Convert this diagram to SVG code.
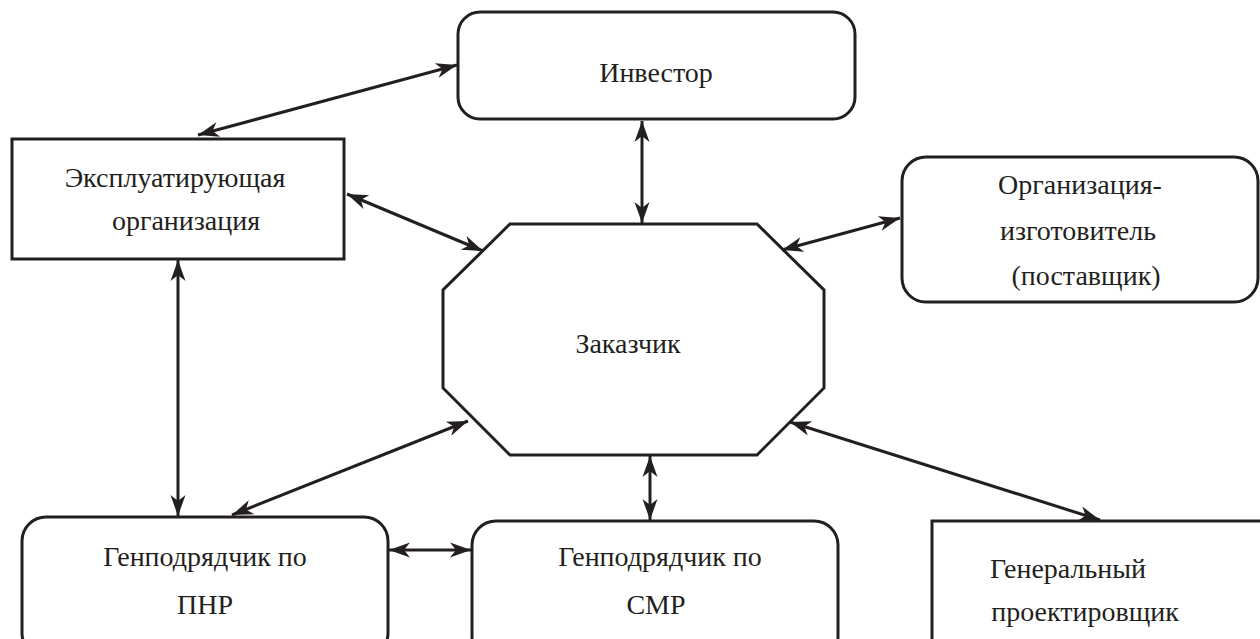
<svg xmlns="http://www.w3.org/2000/svg" width="1260" height="639" viewBox="0 0 1260 639">
<style>
.box{fill:#fff;stroke:#231f20;stroke-width:3}
.t{font-family:"Liberation Serif","Times New Roman",serif;font-size:28px;fill:#231f20;text-anchor:middle}
.c{stroke:#231f20;stroke-width:3;fill:none;marker-start:url(#ah);marker-end:url(#ah)}
</style>
<defs>
<marker id="ah" markerUnits="userSpaceOnUse" viewBox="-22 -9 24 18" refX="0" refY="0" markerWidth="24" markerHeight="18" orient="auto-start-reverse">
<path d="M0,0 L-21,-7.5 L-15,0 L-21,7.5 Z" fill="#231f20"/>
</marker>
</defs>
<rect width="1260" height="639" fill="#fff"/>
<g id="investor">
<rect class="box" x="458" y="12" width="397" height="107" rx="22"/>
<text class="t" x="656" y="82">Инвестор</text>
</g>
<g id="operator">
<rect class="box" x="12" y="139" width="332" height="120"/>
<text class="t" x="175" y="187">Эксплуатирующая</text>
<text class="t" x="186" y="230">организация</text>
</g>
<g id="manufacturer">
<rect class="box" x="902" y="157" width="356" height="145" rx="24"/>
<text class="t" x="1080" y="194">Организация-</text>
<text class="t" x="1078" y="240">изготовитель</text>
<text class="t" x="1086" y="285">(поставщик)</text>
</g>
<g id="customer">
<polygon class="box" points="510,224 757,224 824,290 824,388 757,455 510,455 443,388 443,290"/>
<text class="t" x="628" y="353">Заказчик</text>
</g>
<g id="pnr">
<rect class="box" x="22" y="517" width="366" height="140" rx="24"/>
<text class="t" x="205" y="566">Генподрядчик по</text>
<text class="t" x="205" y="614">ПНР</text>
</g>
<g id="smr">
<rect class="box" x="472" y="521" width="366" height="140" rx="24"/>
<text class="t" x="660" y="566">Генподрядчик по</text>
<text class="t" x="656" y="614">СМР</text>
</g>
<g id="designer">
<rect class="box" x="932" y="521" width="340" height="140"/>
<text class="t" x="1068" y="578">Генеральный</text>
<text class="t" x="1085" y="621">проектировщик</text>
</g>
<g id="connectors">
<line class="c" x1="198" y1="135" x2="457" y2="65"/>
<line class="c" x1="642" y1="121" x2="642" y2="223"/>
<line class="c" x1="347" y1="194" x2="483" y2="251"/>
<line class="c" x1="782" y1="250" x2="900" y2="218"/>
<line class="c" x1="178" y1="260" x2="178" y2="516"/>
<line class="c" x1="232" y1="515" x2="468" y2="421"/>
<line class="c" x1="650" y1="456" x2="650" y2="520"/>
<line class="c" x1="389" y1="550" x2="471" y2="550"/>
<line class="c" x1="790" y1="422" x2="1100" y2="520"/>
</g>
</svg>
